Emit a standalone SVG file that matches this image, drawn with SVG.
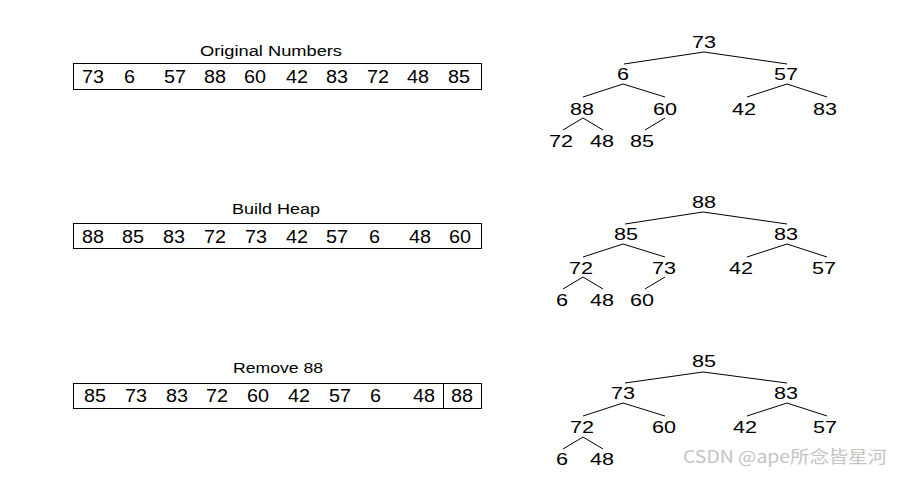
<svg xmlns="http://www.w3.org/2000/svg" width="903" height="478" viewBox="0 0 903 478">
<style>
text{font-family:"Liberation Sans",Arial,sans-serif;fill:#000}
.t{font-size:15.5px;text-anchor:middle}
.a{font-size:17.5px}
.n{font-size:16px;text-anchor:middle}
.box{fill:none;stroke:#000;stroke-width:1}
.e line{stroke:#000;stroke-width:1}
.wm{font-family:"Noto Sans CJK SC","Noto Sans",sans-serif;font-size:17px;fill:#c4c4c4}
</style>
<rect width="903" height="478" fill="#fff"/>

<g id="array1">
<text class="t" x="271" y="56" textLength="142" lengthAdjust="spacingAndGlyphs">Original Numbers</text>
<rect class="box" x="73.5" y="63.5" width="408" height="26"/>
<text class="a" x="82" y="83" textLength="22" lengthAdjust="spacingAndGlyphs">73</text>
<text class="a" x="124" y="83" textLength="11" lengthAdjust="spacingAndGlyphs">6</text>
<text class="a" x="164" y="83" textLength="22" lengthAdjust="spacingAndGlyphs">57</text>
<text class="a" x="204" y="83" textLength="22" lengthAdjust="spacingAndGlyphs">88</text>
<text class="a" x="244" y="83" textLength="22" lengthAdjust="spacingAndGlyphs">60</text>
<text class="a" x="286" y="83" textLength="22" lengthAdjust="spacingAndGlyphs">42</text>
<text class="a" x="326" y="83" textLength="22" lengthAdjust="spacingAndGlyphs">83</text>
<text class="a" x="367" y="83" textLength="22" lengthAdjust="spacingAndGlyphs">72</text>
<text class="a" x="407" y="83" textLength="22" lengthAdjust="spacingAndGlyphs">48</text>
<text class="a" x="448" y="83" textLength="22" lengthAdjust="spacingAndGlyphs">85</text>
</g>

<g id="array2">
<text class="t" x="276" y="214" textLength="88" lengthAdjust="spacingAndGlyphs">Build Heap</text>
<rect class="box" x="73.5" y="223.5" width="408" height="25"/>
<text class="a" x="82" y="242.5" textLength="22" lengthAdjust="spacingAndGlyphs">88</text>
<text class="a" x="122" y="242.5" textLength="22" lengthAdjust="spacingAndGlyphs">85</text>
<text class="a" x="163" y="242.5" textLength="22" lengthAdjust="spacingAndGlyphs">83</text>
<text class="a" x="204" y="242.5" textLength="22" lengthAdjust="spacingAndGlyphs">72</text>
<text class="a" x="245" y="242.5" textLength="22" lengthAdjust="spacingAndGlyphs">73</text>
<text class="a" x="286" y="242.5" textLength="22" lengthAdjust="spacingAndGlyphs">42</text>
<text class="a" x="326" y="242.5" textLength="22" lengthAdjust="spacingAndGlyphs">57</text>
<text class="a" x="369" y="242.5" textLength="11" lengthAdjust="spacingAndGlyphs">6</text>
<text class="a" x="409" y="242.5" textLength="22" lengthAdjust="spacingAndGlyphs">48</text>
<text class="a" x="449" y="242.5" textLength="22" lengthAdjust="spacingAndGlyphs">60</text>
</g>

<g id="array3">
<text class="t" x="278" y="373" textLength="90" lengthAdjust="spacingAndGlyphs">Remove 88</text>
<rect class="box" x="73.5" y="383.5" width="408" height="25"/>
<line x1="443.5" y1="383.5" x2="443.5" y2="408.5" stroke="#000" stroke-width="1"/>
<text class="a" x="84" y="401.7" textLength="22" lengthAdjust="spacingAndGlyphs">85</text>
<text class="a" x="125" y="401.7" textLength="22" lengthAdjust="spacingAndGlyphs">73</text>
<text class="a" x="166" y="401.7" textLength="22" lengthAdjust="spacingAndGlyphs">83</text>
<text class="a" x="206" y="401.7" textLength="22" lengthAdjust="spacingAndGlyphs">72</text>
<text class="a" x="247" y="401.7" textLength="22" lengthAdjust="spacingAndGlyphs">60</text>
<text class="a" x="288" y="401.7" textLength="22" lengthAdjust="spacingAndGlyphs">42</text>
<text class="a" x="329" y="401.7" textLength="22" lengthAdjust="spacingAndGlyphs">57</text>
<text class="a" x="370" y="401.7" textLength="11" lengthAdjust="spacingAndGlyphs">6</text>
<text class="a" x="413" y="401.7" textLength="22" lengthAdjust="spacingAndGlyphs">48</text>
<text class="a" x="451" y="401.7" textLength="22" lengthAdjust="spacingAndGlyphs">88</text>
</g>

<g id="connectors" class="e">
<line x1="704" y1="52" x2="624" y2="64"/><line x1="704" y1="52" x2="787" y2="64"/>
<line x1="623" y1="84" x2="583" y2="97"/><line x1="623" y1="84" x2="665" y2="97"/>
<line x1="787" y1="84" x2="747" y2="97"/><line x1="787" y1="84" x2="827" y2="97"/>
<line x1="583" y1="118" x2="563" y2="130"/><line x1="583" y1="118" x2="603" y2="130"/>
<line x1="665" y1="118" x2="645" y2="130"/>

<line x1="703" y1="212" x2="625" y2="224"/><line x1="703" y1="212" x2="787" y2="224"/>
<line x1="623" y1="244" x2="583" y2="257"/><line x1="623" y1="244" x2="665" y2="257"/>
<line x1="787" y1="244" x2="747" y2="257"/><line x1="787" y1="244" x2="827" y2="257"/>
<line x1="583" y1="277" x2="563" y2="289"/><line x1="583" y1="277" x2="603" y2="289"/>
<line x1="665" y1="277" x2="645" y2="289"/>

<line x1="703" y1="372" x2="625" y2="383"/><line x1="703" y1="372" x2="787" y2="383"/>
<line x1="623" y1="403" x2="583" y2="416"/><line x1="623" y1="403" x2="665" y2="416"/>
<line x1="787" y1="403" x2="747" y2="416"/><line x1="787" y1="403" x2="827" y2="416"/>
<line x1="583" y1="437" x2="563" y2="449"/><line x1="583" y1="437" x2="603" y2="449"/>
</g>

<g id="tree1">
<g id="t1-73"><text class="n" x="704" y="48" textLength="24" lengthAdjust="spacingAndGlyphs">73</text></g>
<g id="t1-6"><text class="n" x="623" y="80" textLength="12" lengthAdjust="spacingAndGlyphs">6</text></g>
<g id="t1-57"><text class="n" x="786" y="80" textLength="24" lengthAdjust="spacingAndGlyphs">57</text></g>
<g id="t1-88"><text class="n" x="582" y="115" textLength="24" lengthAdjust="spacingAndGlyphs">88</text></g>
<g id="t1-60"><text class="n" x="665" y="115" textLength="24" lengthAdjust="spacingAndGlyphs">60</text></g>
<g id="t1-42"><text class="n" x="744" y="115" textLength="24" lengthAdjust="spacingAndGlyphs">42</text></g>
<g id="t1-83"><text class="n" x="825" y="115" textLength="24" lengthAdjust="spacingAndGlyphs">83</text></g>
<g id="t1-72"><text class="n" x="561" y="147" textLength="24" lengthAdjust="spacingAndGlyphs">72</text></g>
<g id="t1-48"><text class="n" x="602" y="147" textLength="24" lengthAdjust="spacingAndGlyphs">48</text></g>
<g id="t1-85"><text class="n" x="642" y="147" textLength="24" lengthAdjust="spacingAndGlyphs">85</text></g>
</g>

<g id="tree2">
<g id="t2-88"><text class="n" x="704" y="208" textLength="24" lengthAdjust="spacingAndGlyphs">88</text></g>
<g id="t2-85"><text class="n" x="626" y="240" textLength="24" lengthAdjust="spacingAndGlyphs">85</text></g>
<g id="t2-83"><text class="n" x="786" y="240" textLength="24" lengthAdjust="spacingAndGlyphs">83</text></g>
<g id="t2-72"><text class="n" x="581" y="274" textLength="24" lengthAdjust="spacingAndGlyphs">72</text></g>
<g id="t2-73"><text class="n" x="664" y="274" textLength="24" lengthAdjust="spacingAndGlyphs">73</text></g>
<g id="t2-42"><text class="n" x="741" y="274" textLength="24" lengthAdjust="spacingAndGlyphs">42</text></g>
<g id="t2-57"><text class="n" x="824" y="274" textLength="24" lengthAdjust="spacingAndGlyphs">57</text></g>
<g id="t2-6"><text class="n" x="562" y="306" textLength="12" lengthAdjust="spacingAndGlyphs">6</text></g>
<g id="t2-48"><text class="n" x="602" y="306" textLength="24" lengthAdjust="spacingAndGlyphs">48</text></g>
<g id="t2-60"><text class="n" x="642" y="306" textLength="24" lengthAdjust="spacingAndGlyphs">60</text></g>
</g>

<g id="tree3">
<g id="t3-85"><text class="n" x="704" y="367" textLength="24" lengthAdjust="spacingAndGlyphs">85</text></g>
<g id="t3-73"><text class="n" x="623" y="399" textLength="24" lengthAdjust="spacingAndGlyphs">73</text></g>
<g id="t3-83"><text class="n" x="786" y="399" textLength="24" lengthAdjust="spacingAndGlyphs">83</text></g>
<g id="t3-72"><text class="n" x="582" y="433" textLength="24" lengthAdjust="spacingAndGlyphs">72</text></g>
<g id="t3-60"><text class="n" x="664" y="433" textLength="24" lengthAdjust="spacingAndGlyphs">60</text></g>
<g id="t3-42"><text class="n" x="745" y="433" textLength="24" lengthAdjust="spacingAndGlyphs">42</text></g>
<g id="t3-57"><text class="n" x="825" y="433" textLength="24" lengthAdjust="spacingAndGlyphs">57</text></g>
<g id="t3-6"><text class="n" x="562" y="465" textLength="12" lengthAdjust="spacingAndGlyphs">6</text></g>
<g id="t3-48"><text class="n" x="602" y="465" textLength="24" lengthAdjust="spacingAndGlyphs">48</text></g>
</g>

<text class="wm" x="683" y="463" textLength="204" lengthAdjust="spacingAndGlyphs">CSDN @ape所念皆星河</text>
</svg>
